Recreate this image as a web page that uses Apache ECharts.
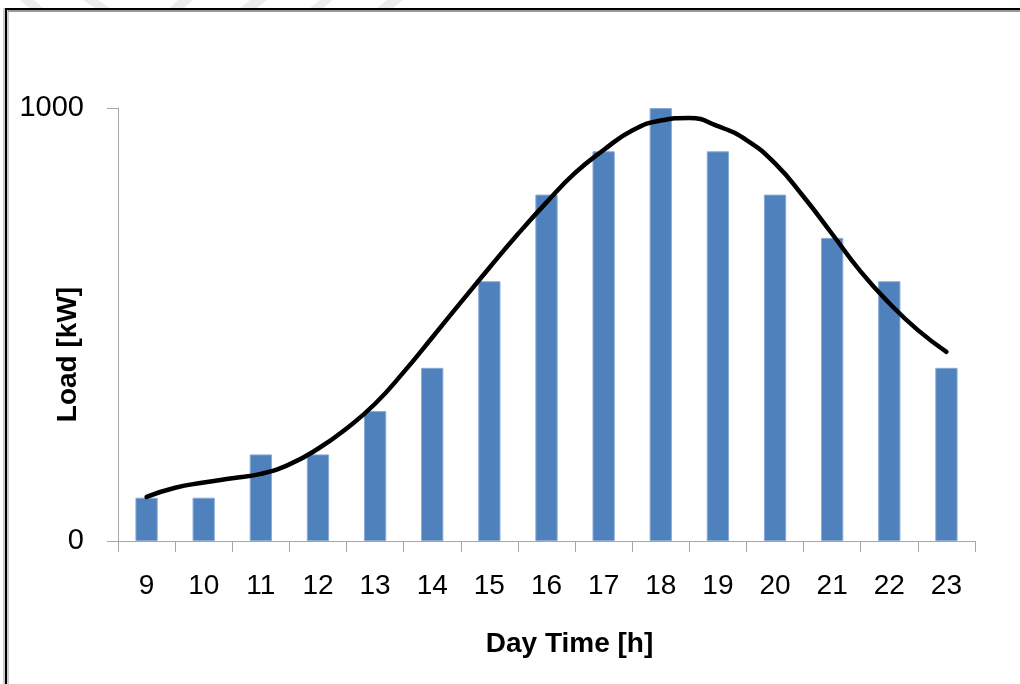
<!DOCTYPE html>
<html>
<head>
<meta charset="utf-8">
<script src="https://cdn.jsdelivr.net/npm/echarts@6/dist/echarts.min.js"></script>
<style>
html,body{margin:0;padding:0;background:#fff;}
#chart{width:1020px;height:684px;}
</style>
</head>
<body>
<div id="chart"></div>
<script>
// Categories (hours) and bar values
const hours = ['9','10','11','12','13','14','15','16','17','18','19','20','21','22','23'];
const loadValues = [100, 100, 200, 200, 300, 400, 600, 800, 900, 1000, 900, 800, 700, 600, 400];

// Smooth trend curve: hour positions and load values
const curveHours = [9, 9.5, 10, 10.5, 11, 11.5, 12, 12.5, 13, 13.5, 14, 14.5, 15, 15.5, 16, 16.5, 17, 17.5, 18, 18.5, 19, 19.5, 20, 20.5, 21, 21.5, 22, 22.5, 23];
const curveLoads = [102, 123, 135, 145, 155, 177, 213, 260, 317, 390, 470, 551, 631, 709, 782, 850, 903, 948, 971, 977, 958, 926, 872, 795, 709, 622, 549, 487, 437];

// Axis tick values and titles
const yTicks = [0, 1000];
const xTitle = 'Day Time [h]';
const yTitle = 'Load [kW]';

const FONT = '"Liberation Sans", Arial, sans-serif';
const curveData = curveHours.map((h, i) => [h, curveLoads[i]]);

const chart = echarts.init(document.getElementById('chart'), null, {renderer: 'canvas'});

// decorative stripes at the very top (above the frame)
const stripes = [
  [[20,0],[34,0],[43,8],[29,8]],
  [[83,0],[98,0],[110,8],[95,8]],
  [[178,0],[193,0],[184,8],[170,8]],
  [[250,0],[267,0],[257,8],[240,8]],
  [[320,0],[333,0],[323,8],[310,8]],
  [[387,0],[403,0],[393,8],[377,8]]
];

chart.setOption({
  animation: false,
  backgroundColor: '#ffffff',
  grid: {left: 118, right: 45, top: 108, bottom: 143, containLabel: false, outerBoundsMode: 'none'},
  xAxis: [
    {
      type: 'category',
      data: hours,
      boundaryGap: true,
      axisLine: {show: true, lineStyle: {color: '#a6a6a6', width: 1}},
      axisTick: {show: true, length: 11, lineStyle: {color: '#a6a6a6'}},
      axisLabel: {color: '#000', fontFamily: FONT, fontSize: 28, margin: 31},
      splitLine: {show: false},
      name: xTitle,
      nameLocation: 'middle',
      nameGap: 89,
      nameMoveOverlap: false,
      nameTextStyle: {color: '#000', fontFamily: FONT, fontSize: 28, fontWeight: 'bold', padding: [0, 0, 0, 46]}
    },
    {
      type: 'value',
      min: 8.5,
      max: 23.5,
      show: false
    }
  ],
  yAxis: {
    type: 'value',
    min: 0,
    max: 1000,
    interval: 1000,
    axisLine: {show: true, lineStyle: {color: '#a6a6a6', width: 1}},
    axisTick: {show: true, length: 11, lineStyle: {color: '#a6a6a6'}},
    axisLabel: {color: '#000', fontFamily: FONT, fontSize: 29, margin: 34,
      formatter: v => yTicks.indexOf(v) >= 0 ? String(v) : ''},
    splitLine: {show: false},
    name: yTitle,
    nameLocation: 'middle',
    nameGap: 36,
    nameRotate: 90,
    nameMoveOverlap: false,
    nameTextStyle: {color: '#000', fontFamily: FONT, fontSize: 28, fontWeight: 'bold', padding: [0, 60, 0, 0]}
  },
  series: [
    {
      type: 'bar',
      data: loadValues,
      xAxisIndex: 0,
      barWidth: '39%',
      itemStyle: {color: '#4f81bd', borderColor: '#8aaad6', borderWidth: 1}
    },
    {
      type: 'line',
      data: curveData,
      xAxisIndex: 1,
      smooth: 0.5,
      showSymbol: false,
      symbol: 'none',
      lineStyle: {color: '#000', width: 4.5, cap: 'round', join: 'round'},
      z: 5
    }
  ],
  graphic: [
    ...stripes.map(p => ({type: 'polygon', shape: {points: p}, style: {fill: '#ececec'}, silent: true})),
    {type: 'line', shape: {x1: 5, y1: 9, x2: 1020, y2: 9}, style: {stroke: '#000', lineWidth: 2}},
    {type: 'line', shape: {x1: 8, y1: 11, x2: 1020, y2: 11}, style: {stroke: '#9a9a9a', lineWidth: 2}},
    {type: 'line', shape: {x1: 4, y1: 8, x2: 4, y2: 684}, style: {stroke: '#9a9a9a', lineWidth: 1}},
    {type: 'line', shape: {x1: 6, y1: 8, x2: 6, y2: 684}, style: {stroke: '#000', lineWidth: 2}},
    {type: 'line', shape: {x1: 8, y1: 10, x2: 8, y2: 684}, style: {stroke: '#9a9a9a', lineWidth: 1}}
  ]
});
</script>
</body>
</html>
